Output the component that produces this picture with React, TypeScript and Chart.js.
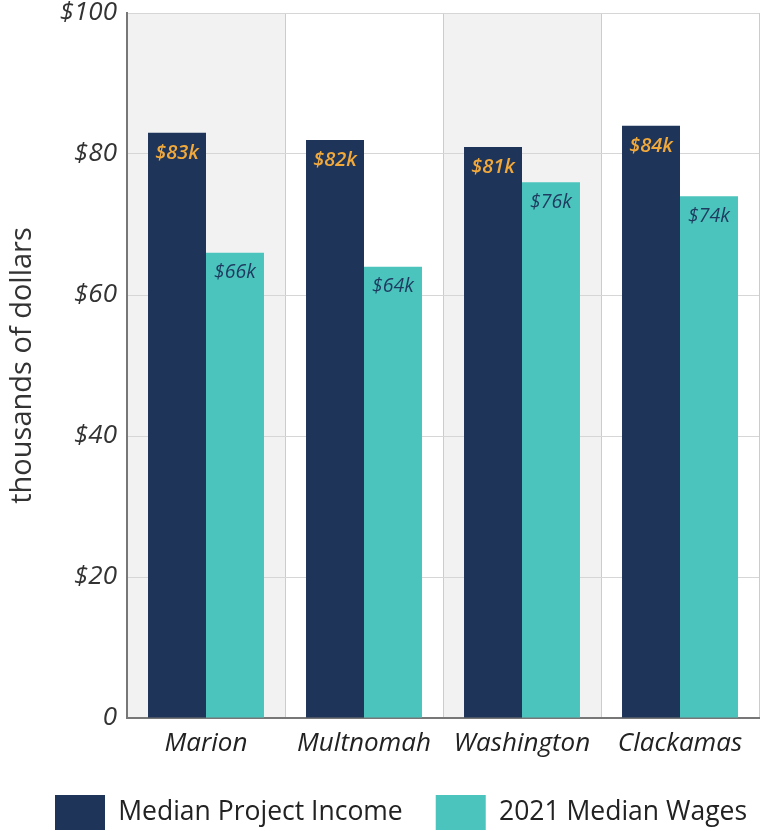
import React, { useEffect, useRef } from "react";
import { Chart, registerables } from "chart.js";

Chart.register(...registerables);

const categories = ["Marion", "Multnomah", "Washington", "Clackamas"];
const incomeValues = [83, 82, 81, 84];
const wageValues = [66, 64, 76, 74];
const seriesNames = ["Median Project Income", "2021 Median Wages"];
const axisTitle = "thousands of dollars";

const FONT = "'Open Sans', Lato, sans-serif";
const NAVY = "#1e3459";
const TEAL = "#4bc4bd";

const bandPlugin = {
  id: "bands",
  beforeDraw(chart: any) {
    const { ctx, chartArea, scales } = chart;
    const x = scales.x;
    const w = (chartArea.right - chartArea.left) / categories.length;
    ctx.save();
    ctx.fillStyle = "#f2f2f2";
    categories.forEach((_, i) => {
      if (i % 2 === 0) {
        const c = x.getPixelForValue(i);
        ctx.fillRect(c - w / 2, chartArea.top, w, chartArea.bottom - chartArea.top);
      }
    });
    ctx.restore();
  },
};

const labelPlugin = {
  id: "barLabels",
  afterDatasetsDraw(chart: any) {
    const { ctx } = chart;
    ctx.save();
    ctx.textAlign = "center";
    ctx.textBaseline = "middle";
    chart.data.datasets.forEach((ds: any, di: number) => {
      const meta = chart.getDatasetMeta(di);
      meta.data.forEach((bar: any, i: number) => {
        const v = ds.data[i];
        if (di === 0) {
          ctx.font = `italic 600 20px ${FONT}`;
          ctx.fillStyle = "#f2a93b";
        } else {
          ctx.font = `italic 19.5px ${FONT}`;
          ctx.fillStyle = "#1f3a5f";
        }
        ctx.fillText(`$${v}k`, bar.x, bar.y + 20);
      });
    });
    ctx.restore();
  },
};

const layoutTweak = {
  id: "layoutTweak",
  afterLayout(chart: any) {
    const lg = chart.legend;
    if (lg) {
      lg.top += 9;
      lg.bottom += 9;
      lg.left += 22;
      lg.right += 22;
    }
    const xs = chart.scales.x;
    if (xs) xs.bottom = chart.height;
  },
};

export default function App() {
  const ref = useRef<HTMLCanvasElement>(null);
  useEffect(() => {
    document.body.style.margin = "0";
    const chart = new Chart(ref.current!, {
      type: "bar",
      data: {
        labels: categories,
        datasets: [
          {
            label: seriesNames[0],
            data: incomeValues,
            backgroundColor: NAVY,
            categoryPercentage: 0.734,
            barPercentage: 1,
          },
          {
            label: seriesNames[1],
            data: wageValues,
            backgroundColor: TEAL,
            categoryPercentage: 0.734,
            barPercentage: 1,
          },
        ],
      },
      options: {
        responsive: false,
        animation: false,
        layout: { padding: { top: 13, right: 3, left: 0, bottom: 0 } },
        plugins: {
          tooltip: { enabled: false },
          legend: {
            position: "bottom",
            align: "start",
            labels: {
              boxWidth: 50,
              boxHeight: 35,
              padding: 33,
              color: "#222",
              font: { family: FONT, size: 26.5 },
            },
          },
        },
        scales: {
          x: {
            grid: {
              color: "#cccccc",
              lineWidth: 1,
              drawTicks: false,
              offset: true,
            },
            border: { color: "#777", width: 2 },
            ticks: {
              color: "#222",
              padding: 10,
              font: { family: FONT, size: 26, style: "italic" },
            },
            afterFit(scale: any) {
              scale.height = 35;
            },
          },
          y: {
            min: 0,
            max: 100,
            grid: { color: "#d6d6d6", lineWidth: 1, drawTicks: false },
            border: { color: "#777", width: 2 },
            ticks: {
              stepSize: 20,
              color: "#333",
              padding: 10,
              font: { family: FONT, size: 26, style: "italic" },
              callback: (v: any) => (v === 0 ? "0" : `$${v}`),
            },
            title: {
              display: true,
              text: axisTitle,
              color: "#333",
              padding: { top: 5, bottom: 0 },
              font: { family: FONT, size: 29 },
            },
            afterFit(scale: any) {
              scale.width = 127;
              scale.paddingTop = 0;
              scale.paddingBottom = 0;
            },
          },
        },
      },
      plugins: [bandPlugin, labelPlugin, layoutTweak],
    });
    return () => chart.destroy();
  }, []);
  return <canvas ref={ref} width={762} height={831} style={{ display: "block" }} />;
}
